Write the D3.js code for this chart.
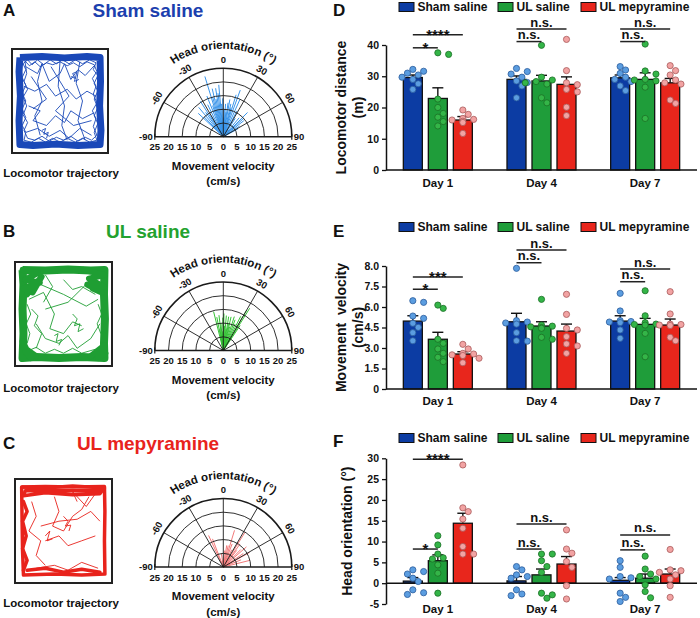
<!DOCTYPE html>
<html><head><meta charset="utf-8">
<script src="https://cdn.jsdelivr.net/npm/d3@7"></script>
<style>
body{margin:0;background:#fff}
svg{display:block}
text{font-family:"Liberation Sans",Arial,sans-serif;font-weight:bold;fill:#111}
</style>
</head><body>
<svg id="c" width="700" height="618"></svg>
<script>
// ---------------- DATA ----------------
const days = ["Day 1","Day 4","Day 7"];
const groups = ["Sham saline","UL saline","UL mepyramine"];
const panelLetters = ["A","B","C","D","E","F"];
const panelTitles = ["Sham saline","UL saline","UL mepyramine"];

// D: locomotor distance (m)
const distMean = [[29.6,22.9,16.0],[29.0,28.5,27.4],[29.5,29.0,27.9]];
const distSem  = [[0.8,3.4,1.1],[1.1,1.8,2.4],[0.9,2.1,1.4]];
const distPts = [
 [[32.2,31.6,31.0,30.4,29.7,29.0,27.6,25.8],[37.5,37.0,22.7,20.0,18.1,16.9,15.5,14.1],[19.2,17.8,16.5,16.2,16.0,15.6,15.2,11.7]],
 [[32.5,31.5,30.7,29.7,28.5,28.0,26.9,23.1],[39.9,29.7,28.8,28.3,27.9,27.5,23.1,21.5],[41.8,31.8,27.9,27.3,25.8,25.0,20.1,17.4]],
 [[33.1,32.0,30.9,29.7,29.0,28.3,26.9,25.4],[40.3,31.7,30.7,29.0,28.8,28.5,26.5,16.5],[33.4,31.8,30.4,28.8,27.9,27.5,22.4,21.3]]
];
const distTicks = [0,10,20,30,40];
const distTickLabels = ["0","10","20","30","40"];
const distSigDay = [0,0,1,1,2,2];
const distSigTo  = [2,1,2,1,2,1];
const distSigY   = [43.3,39.1,45.1,41.1,45.1,41.1];
const distSigLabel = ["****","*","n.s.","n.s.","n.s.","n.s."];

// E: movement velocity (cm/s)
const velMean = [[4.97,3.64,2.56],[4.92,4.61,4.24],[4.97,4.73,4.68]];
const velSem  = [[0.39,0.51,0.17],[0.62,0.31,0.51],[0.39,0.44,0.44]];
const velPts = [
 [[6.46,6.34,5.34,5.17,4.81,4.51,4.12,3.53],[6.14,5.9,3.64,3.34,2.93,2.61,2.32,2.0],[3.27,2.93,2.61,2.56,2.5,2.45,2.25,1.92]],
 [[8.83,5.0,4.9,4.83,4.75,4.12,3.53,3.5],[6.56,4.68,4.6,4.55,4.5,4.44,3.78,3.64],[6.93,5.46,4.44,4.32,3.83,3.3,3.15,2.61]],
 [[7.0,5.71,5.0,4.94,4.9,4.86,4.32,3.71],[7.19,5.36,4.85,4.75,4.72,4.68,4.07,2.36],[7.12,5.49,4.75,4.72,4.68,4.65,3.78,3.53]]
];
const velTicks = [0,1.5,3,4.5,6,7.5,9];
const velTickLabels = ["0","1.5","3.0","4.5","6.0","7.5","8.0"];
const velSigDay = [0,0,1,1,2,2];
const velSigTo  = [2,1,2,1,2,1];
const velSigY   = [8.2,7.3,10.17,9.24,8.78,7.85];
const velSigLabel = ["***","*","n.s.","n.s.","n.s.","n.s."];

// F: head orientation (deg)
const headMean = [[0.5,5.4,14.4],[0.55,2.0,4.6],[0.7,1.2,2.2]];
const headSem  = [[0.85,1.4,2.4],[1.05,1.4,1.8],[0.65,1.0,1.2]];
const headPts = [
 [[3.2,2.8,2.2,1.2,0.4,-1.6,-2.3,-2.7],[11.4,9.2,7.0,6.1,5.8,4.4,2.4,-2.4],[28.4,18.1,17.2,15.4,13.2,8.8,7.0,7.0]],
 [[4.0,3.2,2.0,1.6,1.2,-1.6,-2.6,-3.0],[7.0,7.0,5.4,4.0,2.6,-2.4,-2.8,-3.6],[12.8,8.2,7.2,5.2,3.8,-0.6,-3.8]],
 [[5.4,3.8,1.6,1.3,1.0,-2.4,-3.4,-4.4],[6.5,3.4,2.2,1.6,1.0,-0.4,-2.0,-3.5],[8.1,3.2,3.0,2.6,2.0,1.0,-0.6,-3.4]]
];
const headTicks = [-5,0,5,10,15,20,25,30];
const headTickLabels = ["-5","0","5","10","15","20","25","30"];
const headSigDay = [0,0,1,1,2,2];
const headSigTo  = [2,1,2,1,2,1];
const headSigY   = [29.8,8.2,14.2,8.2,11.6,8.0];
const headSigLabel = ["****","*","n.s.","n.s.","n.s.","n.s."];

// Polar plots: head orientation (deg) and movement velocity (cm/s) per bout
const polarRings = [5,10,15,20,25];
const polarSpokes = [-60,-30,0,30,60];
const polarTickVals = [-25,-20,-15,-10,-5,0,5,10,15,20,25];
const polarHeadA = [-47,-44,-40,-36,-33,-30,-26,-22,-19,-17,-15,-13,-11,-9,-7,-5,-3,-1,0,2,4,6,8,10,13,15,17,20,24,28,33,40,45,48,52,57,62];
const polarVelA  = [12.5,10,14,11,15.4,9,13,16,12,23,15,18,14,17.9,16,19,12,14,7,10,12,9,12.5,13.8,12.3,11,16,18.1,15,10.7,8,9,12.5,10,9.5,7.1,6];
const polarHeadB = [-14,-11,-9,-7,-5,-3,-1,0,1,3,5,7,9,11,13,15,18,21,24,27,30,32,34];
const polarVelB  = [14.6,12.4,8,13,10,7,12,6,13.5,9,12.8,8,12.5,10,12.6,9,13,12,10.6,14,17,18.2,11];
const polarHeadC = [-25,-21,-8,4,9,13,17,21,26,32,36,39,45,49,56,61,68,76];
const polarVelC  = [12.7,11,5,6,8,8,14,9,7,15,10.4,7.8,9,11.2,8.8,11,7,10];

// Trajectories (arena units 0-100)
const trajWallA = [[5.5,5.5],[30,4.5],[55,6],[80,4.5],[94.5,5.5],[95,30],[94,55],[95.5,80],[94.5,94.5],[70,95.5],[45,94],[20,95.5],[5.5,94.5],[4.5,70],[6,45],[4.5,20],[5.5,5.5]];
const trajPathsA = [
 [[11,9],[16,14],[22,10],[28,15],[35,11],[42,13],[50,10],[58,14],[65,11],[72,15],[80,10],[88,13],[91,20],[86,27],[90,35],[87,43],[91,52],[86,60],[90,68],[87,76],[91,85],[85,90],[78,87],[70,91],[62,86],[54,90],[46,87],[38,91],[30,86],[22,90],[14,88],[10,80],[14,72],[9,64],[13,55],[9,46],[14,38],[10,30],[13,22],[11,9]],
 [[9,12],[14,8],[19,13],[25,8],[32,13],[39,8],[46,12],[53,8],[60,12],[67,8],[75,12],[83,8],[90,11],[87,18],[92,24],[88,32],[92,40],[88,48],[92,57],[88,65],[92,73],[88,82],[91,90],[83,92],[75,88],[67,92],[58,88],[50,92],[42,88],[34,92],[26,88],[18,92],[10,90],[12,82],[8,75],[12,67],[8,58],[12,50],[8,42],[12,34],[8,26],[12,18],[9,12]],
 [[12,15],[25,22],[30,12],[38,30],[50,22],[55,12],[62,28],[70,18],[78,24],[88,14]],
 [[10,35],[22,40],[35,33],[45,45],[58,38],[68,48],[80,40],[90,45]],
 [[15,55],[28,60],[20,70],[35,75],[45,65],[55,72],[62,60],[75,68],[88,62]],
 [[12,82],[25,78],[38,86],[50,80],[60,88],[72,78],[85,85]],
 [[30,12],[25,30],[30,50],[22,65],[28,85]],
 [[50,10],[48,35],[55,55],[52,75],[58,90]],
 [[72,10],[68,32],[75,50],[70,70],[78,90]],
 [[40,15],[60,45],[45,60],[65,75],[85,70]],
 [[18,25],[35,48],[20,58]],
 [[62,25],[67,27],[64,22],[69,20],[66,30],[71,28]],
 [[30,80],[34,78],[32,84],[37,82],[35,88]]
];
const trajWallB = [[5,5],[30,5.5],[55,4.5],[80,5.5],[95,5],[94.5,30],[95.5,55],[94.5,80],[95,95],[70,94],[45,95],[20,94],[5,95],[6,70],[5,45],[6,20],[5,5]];
const trajBlobsB = [
 [[5,5],[22,8],[8,15],[24,18],[6,24],[16,28],[26,12],[10,30]],
 [[72,5],[95,10],[78,14],[94,22],[76,20],[92,28],[82,24]],
 [[5,78],[14,95],[8,88],[20,93],[6,84]],
 [[80,93],[95,82],[88,95],[96,90]]
];
const trajPathsB = [
 [[25,20],[50,30],[75,42],[88,35]],
 [[30,45],[55,38],[80,15]],
 [[12,35],[28,28],[40,50],[35,65],[50,70],[60,58],[70,62]],
 [[20,60],[30,75],[45,80],[55,72],[65,85],[80,75],[90,60]],
 [[60,50],[65,55],[62,62],[68,60],[66,68],[72,65]],
 [[40,72],[44,70],[42,78],[48,76],[45,82]],
 [[15,45],[22,52],[18,62],[26,70],[20,85]],
 [[50,15],[60,25],[70,22],[85,30]],
 [[30,10],[38,22],[28,38]],
 [[10,40],[14,50],[9,60],[13,70],[10,80]],
 [[88,40],[92,50],[87,60],[91,70]],
 [[10,88],[20,84],[30,90],[40,86],[50,90],[60,85],[70,90],[85,86]]
];
const trajWallC = [[4,5],[30,4.5],[60,5],[95,4.5],[95.5,30],[95,60],[95.5,94],[70,95],[40,94],[6,95],[5,70],[4.5,40],[4,5]];
const trajBlobsC = [
 [[4,5],[30,6],[60,4],[95,6],[90,12],[60,13],[30,11],[6,14],[8,9],[50,9],[93,9]],
 [[6,20],[10,30],[5,40],[9,55],[5,68],[10,80],[6,90]],
 [[10,90],[30,88],[50,92],[70,89],[90,92]]
];
const trajPathsC = [
 [[15,20],[20,35],[12,50],[25,60],[20,75],[30,85]],
 [[40,15],[45,30],[38,45],[50,50],[60,35],[70,28],[78,15]],
 [[25,45],[45,40],[65,38],[80,30],[90,40]],
 [[30,60],[45,55],[55,65],[70,60],[85,55]],
 [[20,88],[40,85],[55,90],[70,82],[88,88]],
 [[50,35],[55,40],[52,45],[58,44],[56,50]],
 [[30,55],[35,50],[32,60],[38,58]],
 [[65,20],[60,10],[75,25],[85,12]]
];

// ---------------- STYLE ----------------
const titleColors = ["#1c3fae","#23a22f","#e8231c"];
const trajColors = ["#1a48b8","#1f9e33","#e8231c"];
const polarColors = ["#3a95ea","#36c236","#f27a7a"];
const barColors = ["#0c3ca3","#1f9d3a","#e8261c"];
const dotFill = ["#5b9de0","#34b548","#f2a3a3"];
const dotStroke = ["#2b5c9c","#1b6e25","#a85a5a"];

const svg = d3.select("#c");

const letterPos = [[3,16],[3,236.5],[3,448.5],[333,16],[333,236.5],[333,447]];
panelLetters.forEach((L,i)=>{
  svg.append("text").attr("x",letterPos[i][0]).attr("y",letterPos[i][1])
    .style("font-size","17px").text(L);
});
const titleBase = [17,238,450];
panelTitles.forEach((t,i)=>{
  svg.append("text").attr("x",148).attr("y",titleBase[i]).attr("text-anchor","middle")
    .style("font-size","19px").style("fill",titleColors[i]).text(t);
});

// ---------------- TRAJECTORIES ----------------
const trajBoxes = [[12,49,96,104],[15,262,97,104],[15,479,97,104]];
const trajLabelBase = [177,392,607];
const trajSets = [
  {wall:trajWallA, wallW:7, blobs:[], blobW:0, paths:trajPathsA},
  {wall:trajWallB, wallW:8, blobs:trajBlobsB, blobW:6, paths:trajPathsB},
  {wall:trajWallC, wallW:3.5, blobs:trajBlobsC, blobW:3.5, paths:trajPathsC}
];
trajSets.forEach((s,i)=>{
  const [bx,by,bw,bh] = trajBoxes[i];
  const sx = d3.scaleLinear().domain([0,100]).range([bx+3,bx+bw-3]);
  const sy = d3.scaleLinear().domain([0,100]).range([by+3,by+bh-3]);
  const line = d3.line().x(d=>sx(d[0])).y(d=>sy(d[1])).curve(d3.curveLinear);
  const g = svg.append("g");
  g.append("path").attr("d",line(s.wall)).attr("fill","none").attr("stroke",trajColors[i])
    .attr("stroke-width",s.wallW).attr("stroke-linejoin","round");
  s.blobs.forEach(b=>g.append("path").attr("d",line(b)).attr("fill","none").attr("stroke",trajColors[i])
    .attr("stroke-width",s.blobW).attr("stroke-linejoin","round").attr("stroke-linecap","round"));
  s.paths.forEach(p=>g.append("path").attr("d",line(p)).attr("fill","none").attr("stroke",trajColors[i])
    .attr("stroke-width",0.9));
  g.append("rect").attr("x",bx).attr("y",by).attr("width",bw).attr("height",bh)
    .attr("fill","none").attr("stroke","#222").attr("stroke-width",2);
  svg.append("text").attr("x",61).attr("y",trajLabelBase[i]).attr("text-anchor","middle")
    .style("font-size","11.5px").text("Locomotor trajectory");
});

// ---------------- POLAR ----------------
const polarCenters = [[223.3,136.7],[223.3,350.5],[223.3,567]];
const polarSets = [[polarHeadA,polarVelA],[polarHeadB,polarVelB],[polarHeadC,polarVelC]];
polarSets.forEach((ps,i)=>{
  const [cx,cy] = polarCenters[i];
  const R = 68.5;
  const r = d3.scaleLinear().domain([0,25]).range([0,R]);
  const g = svg.append("g").attr("transform",`translate(${cx},${cy})`);
  const rad = a => a*Math.PI/180;
  const [heads, vels] = ps;
  g.selectAll("line.v").data(heads).join("line").attr("class","v")
    .attr("x1",0).attr("y1",0)
    .attr("x2",(h,k)=>r(vels[k])*Math.sin(rad(h)))
    .attr("y2",(h,k)=>-r(vels[k])*Math.cos(rad(h)))
    .attr("stroke",polarColors[i]).attr("stroke-width",1);
  polarRings.forEach(v=>{
    const p = d3.path(); p.arc(0,0,r(v),Math.PI,2*Math.PI);
    g.append("path").attr("d",p.toString()).attr("fill","none").attr("stroke","#1a1a1a")
      .attr("stroke-width", v===25?1.6:0.9);
  });
  polarSpokes.forEach(a=>{
    g.append("line").attr("x1",0).attr("y1",0)
      .attr("x2",R*Math.sin(rad(a))).attr("y2",-R*Math.cos(rad(a)))
      .attr("stroke","#1a1a1a").attr("stroke-width",0.9);
    g.append("text").attr("transform",`translate(${77*Math.sin(rad(a))},${-77*Math.cos(rad(a))}) rotate(${a})`)
      .attr("text-anchor","middle").attr("dy","0.35em").style("font-size","9.5px").text(a);
  });
  g.append("line").attr("x1",-R).attr("x2",R).attr("y1",0).attr("y2",0).attr("stroke","#1a1a1a").attr("stroke-width",1.6);
  [-R,R].forEach(x=>g.append("line").attr("x1",x).attr("x2",x).attr("y1",-3).attr("y2",3).attr("stroke","#1a1a1a").attr("stroke-width",1.2));
  g.append("text").attr("x",-R-2).attr("y",0).attr("dy","0.35em").attr("text-anchor","end").style("font-size","9.5px").text("-90");
  g.append("text").attr("x",R+2).attr("y",0).attr("dy","0.35em").attr("text-anchor","start").style("font-size","9.5px").text("90");
  polarTickVals.forEach(v=>{
    g.append("text").attr("x",(v<0?-1:1)*r(Math.abs(v))).attr("y",13.5).attr("text-anchor","middle")
      .style("font-size","9.5px").text(Math.abs(v));
  });
  const pid = "arcp"+i;
  g.append("path").attr("id",pid).attr("d",`M ${-88},0 A 88 88 0 0 1 88,0`).attr("fill","none").attr("stroke","none");
  g.append("text").style("font-size","11.5px").append("textPath").attr("href","#"+pid)
    .attr("startOffset","50%").attr("text-anchor","middle").text("Head orientation (°)");
  g.append("text").attr("x",0).attr("y",33).attr("text-anchor","middle").style("font-size","11.5px").text("Movement velocity");
  g.append("text").attr("x",0).attr("y",48.5).attr("text-anchor","middle").style("font-size","11.5px").text("(cm/s)");
});

// ---------------- BAR PANELS ----------------
function barPanel(o){
  const g = svg.append("g");
  const x = d3.scaleBand().domain(days).range([386,697]);
  const xo = d3.scaleBand().domain(groups).range([-37.5,37.5]).paddingInner(0.24).paddingOuter(0.12);
  const y = d3.scaleLinear().domain(o.domain).range(o.range);
  const cx = (di,gi) => x(days[di]) + x.bandwidth()/2 + xo(groups[gi]) + xo.bandwidth()/2;
  const bw = xo.bandwidth();

  const legX = [399,498,581];
  groups.forEach((gname,gi)=>{
    g.append("rect").attr("x",legX[gi]).attr("y",o.legendY-4.5).attr("width",15).attr("height",9)
      .attr("fill",barColors[gi]).attr("stroke","#111").attr("stroke-width",1);
    g.append("text").attr("x",legX[gi]+18.5).attr("y",o.legendY+4.3).style("font-size","12px").text(gname);
  });

  const flat = [];
  o.means.forEach((row,di)=>row.forEach((m,gi)=>flat.push({di,gi,m,s:o.sems[di][gi],pts:o.pts[di][gi]})));
  g.selectAll("rect.bar").data(flat).join("rect").attr("class","bar")
    .attr("x",d=>cx(d.di,d.gi)-bw/2).attr("width",bw)
    .attr("y",d=>Math.min(y(d.m),y(0))).attr("height",d=>Math.abs(y(0)-y(d.m)))
    .attr("fill",d=>barColors[d.gi]).attr("stroke","#111").attr("stroke-width",1.3);

  const ax = g.append("g").attr("transform","translate(386,0)")
    .call(d3.axisLeft(y).tickValues(o.ticks).tickFormat((d,i)=>o.tickLabels[i]).tickSizeInner(4).tickSizeOuter(0));
  ax.select(".domain").attr("stroke","#111").attr("stroke-width",1.5);
  ax.selectAll(".tick line").attr("stroke","#111").attr("stroke-width",1.3);
  ax.selectAll(".tick text").style("font-size","10.5px").style("font-family","Liberation Sans, Arial, sans-serif").style("font-weight","bold").attr("fill","#111");
  g.append("line").attr("x1",386).attr("x2",697).attr("y1",y(0)).attr("y2",y(0)).attr("stroke","#111").attr("stroke-width",1.5);
  days.forEach((d,di)=>g.append("text").attr("x",x(d)+x.bandwidth()/2).attr("y",o.dayBase)
    .attr("text-anchor","middle").style("font-size","11.5px").text(d));

  const tt = g.append("text").attr("transform",`translate(${o.titleX},${(o.range[0]+o.range[1])/2}) rotate(-90)`)
    .attr("text-anchor","middle").style("font-size","14px").style("white-space","pre");
  o.title.forEach((t,k)=>tt.append("tspan").attr("x",0).attr("dy",k===0?"0.35em":"1.2em").text(t));

  flat.forEach(d=>{
    const c = cx(d.di,d.gi);
    g.append("line").attr("x1",c).attr("x2",c).attr("y1",y(d.m)).attr("y2",y(d.m+d.s)).attr("stroke","#111").attr("stroke-width",1.4);
    g.append("line").attr("x1",c-5.5).attr("x2",c+5.5).attr("y1",y(d.m+d.s)).attr("y2",y(d.m+d.s)).attr("stroke","#111").attr("stroke-width",1.4);
  });

  flat.forEach(d=>{
    const c = cx(d.di,d.gi);
    const placed = [];
    const cands = [0,5.4,-5.4,10.8,-10.8,16.2,-16.2];
    d.pts.forEach(v=>{
      const py = y(v);
      let off = cands.find(o2=>placed.every(p=>Math.hypot(p[0]-o2,p[1]-py)>=6.3));
      if(off===undefined) off = 0;
      placed.push([off,py]);
      g.append("circle").attr("cx",c+off).attr("cy",py).attr("r",3.1)
        .attr("fill",dotFill[d.gi]).attr("stroke",dotStroke[d.gi]).attr("stroke-width",0.8);
    });
  });

  o.sigDay.forEach((di,k)=>{
    const x1 = cx(di,0), x2 = cx(di,o.sigTo[k]), yy = y(o.sigY[k]);
    g.append("line").attr("x1",x1).attr("x2",x2).attr("y1",yy).attr("y2",yy).attr("stroke","#222").attr("stroke-width",1.5);
    const lab = o.sigLabel[k];
    const star = lab.indexOf("*")>=0;
    g.append("text").attr("x",(x1+x2)/2).attr("y",star?yy+5:yy-2.5).attr("text-anchor","middle")
      .style("font-size",star?"15px":"13px").text(lab);
  });
}

barPanel({domain:[0,40],range:[170,45],ticks:distTicks,tickLabels:distTickLabels,means:distMean,sems:distSem,pts:distPts,
  sigDay:distSigDay,sigTo:distSigTo,sigY:distSigY,sigLabel:distSigLabel,legendY:7,dayBase:187,titleX:341,title:["Locomotor distance","(m)"]});
barPanel({domain:[0,9],range:[389,266],ticks:velTicks,tickLabels:velTickLabels,means:velMean,sems:velSem,pts:velPts,
  sigDay:velSigDay,sigTo:velSigTo,sigY:velSigY,sigLabel:velSigLabel,legendY:227,dayBase:405,titleX:341,title:["Movement  velocity","(cm/s)"]});
barPanel({domain:[-5,30],range:[604,458.3],ticks:headTicks,tickLabels:headTickLabels,means:headMean,sems:headSem,pts:headPts,
  sigDay:headSigDay,sigTo:headSigTo,sigY:headSigY,sigLabel:headSigLabel,legendY:438,dayBase:613,titleX:347,title:["Head orientation (°)"]});
</script>
</body></html>
